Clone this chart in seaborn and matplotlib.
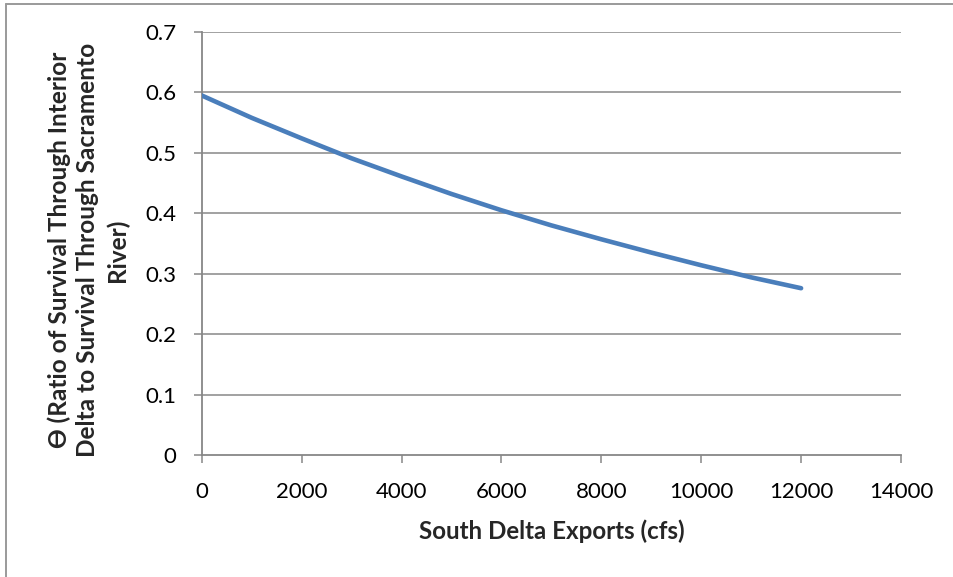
import matplotlib
matplotlib.use("Agg")
import matplotlib.pyplot as plt
import seaborn as sns
import pandas as pd
from matplotlib.lines import Line2D

exports_cfs = [0, 1000, 2000, 3000, 4000, 5000, 6000, 7000, 8000, 9000, 10000, 11000, 12000]
theta = [0.595, 0.558, 0.524, 0.491, 0.461, 0.432, 0.405, 0.380, 0.357, 0.335, 0.314, 0.294, 0.276]
x_ticks = [0, 2000, 4000, 6000, 8000, 10000, 12000, 14000]
y_ticks = [0, 0.1, 0.2, 0.3, 0.4, 0.5, 0.6, 0.7]
x_label = "South Delta Exports (cfs)"
y_label = "ϴ (Ratio of Survival Through Interior\nDelta to Survival Through Sacramento\nRiver)"

sns.set_theme(style="white")
plt.rcParams['font.family'] = ['Lato', 'DejaVu Sans']

df = pd.DataFrame({"x": exports_cfs, "y": theta})

W, H = 954, 577
fig = plt.figure(figsize=(W / 100, H / 100), dpi=100)
ax_left, ax_right, ax_top, ax_bottom = 201.7, 901.0, 32.0, 455.0
ax = fig.add_axes([ax_left / W, 1 - ax_bottom / H, (ax_right - ax_left) / W, (ax_bottom - ax_top) / H])

grid_c = "#878787"
for yv in y_ticks[1:]:
    ax.axhline(yv, color=grid_c, lw=1.1, zorder=1)

sns.lineplot(data=df, x="x", y="y", ax=ax, color="#4A7EBB", lw=3.3, zorder=3,
             solid_capstyle="round")

ax.set_xlim(0, 14000)
ax.set_ylim(0, 0.7)
ax.set_xticks(x_ticks)
ax.set_xticklabels([str(v) for v in x_ticks])
ax.set_yticks(y_ticks)
ax.set_yticklabels(["0" if v == 0 else f"{v:.1f}" for v in y_ticks])
ax.tick_params(axis="both", which="both", direction="out", length=5.8, width=1.1,
               color=grid_c, labelsize=16, labelcolor="black",
               bottom=True, left=True)
ax.tick_params(axis="x", pad=13.5)
ax.tick_params(axis="y", pad=12.5)
for s in ["top", "right"]:
    ax.spines[s].set_visible(False)
for s in ["left", "bottom"]:
    ax.spines[s].set_color(grid_c)
    ax.spines[s].set_linewidth(1.3)
ax.set_xlabel("")
ax.set_ylabel("")

xl = fig.text(551.5 / W, 1 - 531 / H, x_label, ha="center", va="center", fontsize=15,
              fontweight="bold")
yl = fig.text(88 / W, 1 - 250 / H, y_label, ha="center", va="center", fontsize=15,
              fontweight="bold", rotation=90, multialignment="center", linespacing=1.3)

# fit bold label sizes to the measured text extents
fig.canvas.draw()
r = fig.canvas.get_renderer()
bw = xl.get_window_extent(r).width
xl.set_fontsize(15 * 267 / bw)
bh = yl.get_window_extent(r).height
yl.set_fontsize(15 * 414 / bh)

# outer chart border (only left and top edges fall inside the picture)
fig.add_artist(Line2D([5.8 / W, 5.8 / W], [0, 1 - 3.5 / H], transform=fig.transFigure,
                      color="#9a9a9a", lw=1.4))
fig.add_artist(Line2D([5.8 / W, 1], [1 - 3.5 / H, 1 - 3.5 / H], transform=fig.transFigure,
                      color="#9a9a9a", lw=1.4))

fig.savefig("out.png", dpi=100)
